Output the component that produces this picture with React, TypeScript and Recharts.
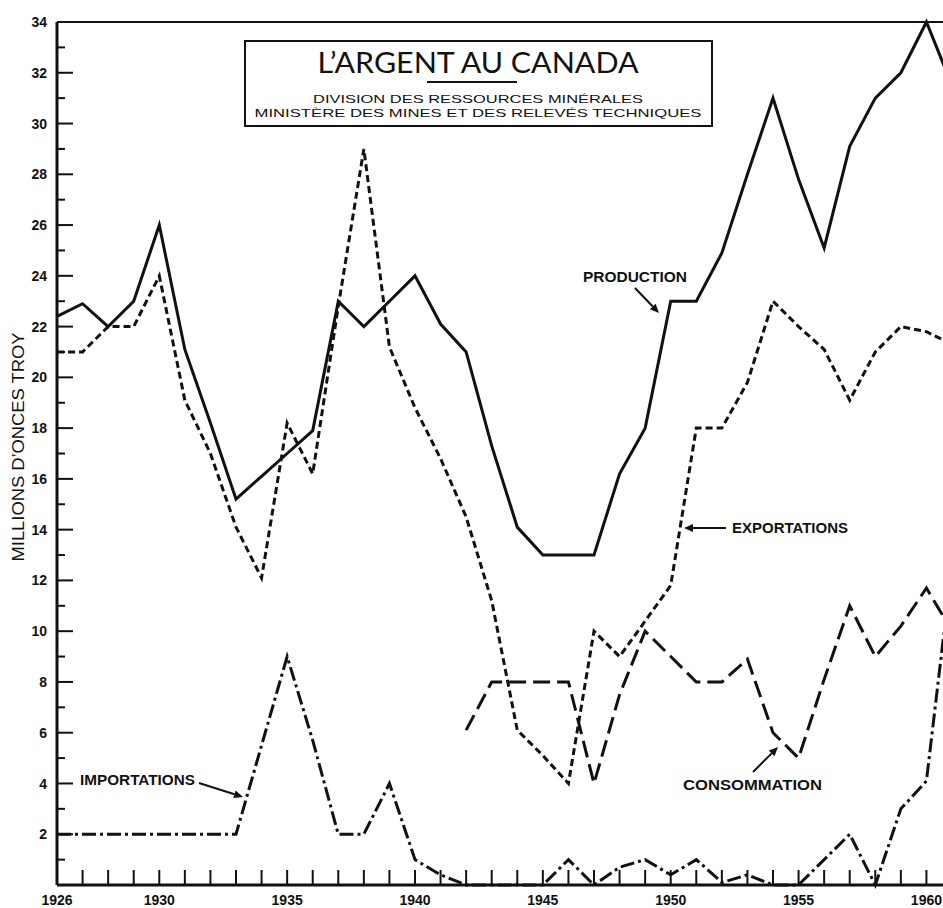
import { LineChart, Line, XAxis, YAxis, ReferenceLine } from 'recharts'

// values, millions of troy ounces
const years = [
  1926, 1927, 1928, 1929, 1930, 1931, 1932, 1933, 1934, 1935, 1936, 1937,
  1938, 1939, 1940, 1941, 1942, 1943, 1944, 1945, 1946, 1947, 1948, 1949,
  1950, 1951, 1952, 1953, 1954, 1955, 1956, 1957, 1958, 1959, 1960, 1961,
]
const production = [
  22.4, 22.9, 22.0, 23.0, 26.0, 21.1, 18.2, 15.2, 16.1, 17.0, 17.9, 23.0,
  22.0, 23.0, 24.0, 22.1, 21.0, 17.3, 14.1, 13.0, 13.0, 13.0, 16.2, 18.0,
  23.0, 23.0, 24.9, 28.0, 31.0, 27.8, 25.1, 29.1, 31.0, 32.0, 34.0, 31.5,
]
const exportations = [
  21.0, 21.0, 22.0, 22.0, 24.0, 19.1, 17.0, 14.1, 12.1, 18.2, 16.2, 22.8,
  29.0, 21.2, 18.8, 16.8, 14.5, 11.2, 6.1, 5.1, 4.0, 10.0, 9.0, 10.4,
  11.8, 18.0, 18.0, 19.8, 23.0, 22.0, 21.1, 19.1, 21.0, 22.0, 21.8, 21.3,
]
const consommation = [
  null, null, null, null, null, null, null, null, null, null, null, null,
  null, null, null, null, 6.1, 8.0, 8.0, 8.0, 8.0, 4.0, 7.5, 10.0,
  9.0, 8.0, 8.0, 8.9, 6.0, 5.0, 8.1, 11.0, 9.0, 10.2, 11.7, 10.0,
]
const importations = [
  2.0, 2.0, 2.0, 2.0, 2.0, 2.0, 2.0, 2.0, 5.5, 9.0, 5.7, 2.0,
  2.0, 4.0, 1.0, 0.4, 0, 0, 0, 0, 1.0, 0, 0.7, 1.0,
  0.4, 1.0, 0.1, 0.4, 0, 0, 1.0, 2.0, 0, 3.0, 4.1, 12.6,
]

const xTicks = years.filter((y) => y <= 1960)
const xLabels = [1926, 1930, 1935, 1940, 1945, 1950, 1955, 1960]
const yTicks = Array.from({ length: 35 }, (_, i) => i)

const data = years.map((year, i) => ({
  year,
  production: production[i],
  exportations: exportations[i],
  consommation: consommation[i],
  importations: importations[i],
}))

const INK = '#111111'
const FONT = '"Liberation Sans", Arial, sans-serif'

function XTick({ x, y, payload }: any) {
  const v = payload.value
  return (
    <g>
      <line x1={x} y1={y} x2={x} y2={y - 15} stroke={INK} strokeWidth={2} />
      {xLabels.includes(v) && (
        <text x={x} y={y + 20} textAnchor="middle" fontSize={14} fontWeight="bold" fill={INK} fontFamily={FONT}>
          {v}
        </text>
      )}
    </g>
  )
}

function YTick({ x, y, payload }: any) {
  const v = payload.value
  const major = v % 2 === 0
  return (
    <g>
      <line x1={x} y1={y} x2={x + (major ? 16 : 8)} y2={y} stroke={INK} strokeWidth={2} />
      {major && v > 0 && (
        <text x={x - 10} y={y} dy="0.36em" textAnchor="end" fontSize={14} fontWeight="bold" fill={INK} fontFamily={FONT}>
          {v}
        </text>
      )}
    </g>
  )
}

function Arrow({ x1, y1, x2, y2 }: { x1: number; y1: number; x2: number; y2: number }) {
  const a = Math.atan2(y2 - y1, x2 - x1)
  const L = 9
  const W = 4
  const bx = x2 - L * Math.cos(a)
  const by = y2 - L * Math.sin(a)
  const px = -Math.sin(a) * W
  const py = Math.cos(a) * W
  return (
    <g>
      <line x1={x1} y1={y1} x2={bx} y2={by} stroke={INK} strokeWidth={2} />
      <polygon points={`${x2},${y2} ${bx + px},${by + py} ${bx - px},${by - py}`} fill={INK} />
    </g>
  )
}

function Overlay() {
  const lbl = { fontSize: 14, fontWeight: 'bold' as const, fill: INK, fontFamily: FONT }
  return (
    <svg width={943} height={908} style={{ position: 'absolute', left: 0, top: 0, pointerEvents: 'none' }}>
      {/* title box */}
      <rect x={245} y={41} width={467} height={85} fill="#fff" stroke={INK} strokeWidth={2} />
      <text x={478} y={73} textAnchor="middle" fontSize={28} fill={INK} fontFamily='Lato, "Open Sans", sans-serif'
        textLength={321} lengthAdjust="spacingAndGlyphs">
        L’ARGENT AU CANADA
      </text>
      <line x1={427} y1={82} x2={517} y2={82} stroke={INK} strokeWidth={2} />
      <text x={478} y={103} textAnchor="middle" fontSize={11} fill={INK} fontFamily={FONT}
        textLength={330} lengthAdjust="spacingAndGlyphs">
        DIVISION DES RESSOURCES MINÉRALES
      </text>
      <text x={478} y={117} textAnchor="middle" fontSize={11} fill={INK} fontFamily={FONT}
        textLength={447} lengthAdjust="spacingAndGlyphs">
        MINISTÈRE DES MINES ET DES RELEVÉS TECHNIQUES
      </text>

      {/* y axis title */}
      <text transform="translate(24,447) rotate(-90)" textAnchor="middle" fontSize={17} fill={INK} fontFamily={FONT}
        textLength={229} lengthAdjust="spacingAndGlyphs">
        MILLIONS D’ONCES TROY
      </text>

      {/* series labels */}
      <text x={583} y={282} {...lbl} textLength={104} lengthAdjust="spacingAndGlyphs">PRODUCTION</text>
      <Arrow x1={635} y1={288} x2={659} y2={313} />

      <text x={732} y={533} {...lbl} textLength={116} lengthAdjust="spacingAndGlyphs">EXPORTATIONS</text>
      <Arrow x1={726} y1={528} x2={684} y2={528} />

      <text x={683} y={790} {...lbl} textLength={139} lengthAdjust="spacingAndGlyphs">CONSOMMATION</text>
      <Arrow x1={753} y1={772} x2={778} y2={747} />

      <text x={80} y={785} {...lbl} textLength={115} lengthAdjust="spacingAndGlyphs">IMPORTATIONS</text>
      <Arrow x1={199} y1={783} x2={243} y2={797} />
    </svg>
  )
}

export default function App() {
  return (
    <div style={{ position: 'absolute', left: 0, top: 0, width: 943, height: 908, overflow: 'hidden', background: '#fff' }}>
      <LineChart width={952} height={908} data={data} margin={{ top: 22, right: 0, bottom: 0, left: 0 }}>
        <XAxis
          dataKey="year"
          type="number"
          domain={[1926, 1961]}
          ticks={xTicks}
          interval={0}
          height={23}
          tickLine={false}
          tickSize={0}
          tickMargin={0}
          axisLine={{ stroke: INK, strokeWidth: 3 }}
          tick={(p: any) => <XTick {...p} />}
        />
        <YAxis
          type="number"
          domain={[0, 34]}
          ticks={yTicks}
          interval={0}
          width={57}
          tickLine={false}
          tickSize={0}
          tickMargin={0}
          axisLine={{ stroke: INK, strokeWidth: 3 }}
          tick={(p: any) => <YTick {...p} />}
        />
        <ReferenceLine y={34} stroke={INK} strokeWidth={2} />
        <Line dataKey="production" stroke={INK} strokeWidth={3} dot={false} isAnimationActive={false} strokeLinejoin="miter" />
        <Line dataKey="exportations" stroke={INK} strokeWidth={3} strokeDasharray="7 4" dot={false} isAnimationActive={false} />
        <Line dataKey="consommation" stroke={INK} strokeWidth={3} strokeDasharray="17 7" dot={false} isAnimationActive={false} />
        <Line dataKey="importations" stroke={INK} strokeWidth={3} strokeDasharray="14 4 3 4" dot={false} isAnimationActive={false} />
      </LineChart>
      <Overlay />
    </div>
  )
}
